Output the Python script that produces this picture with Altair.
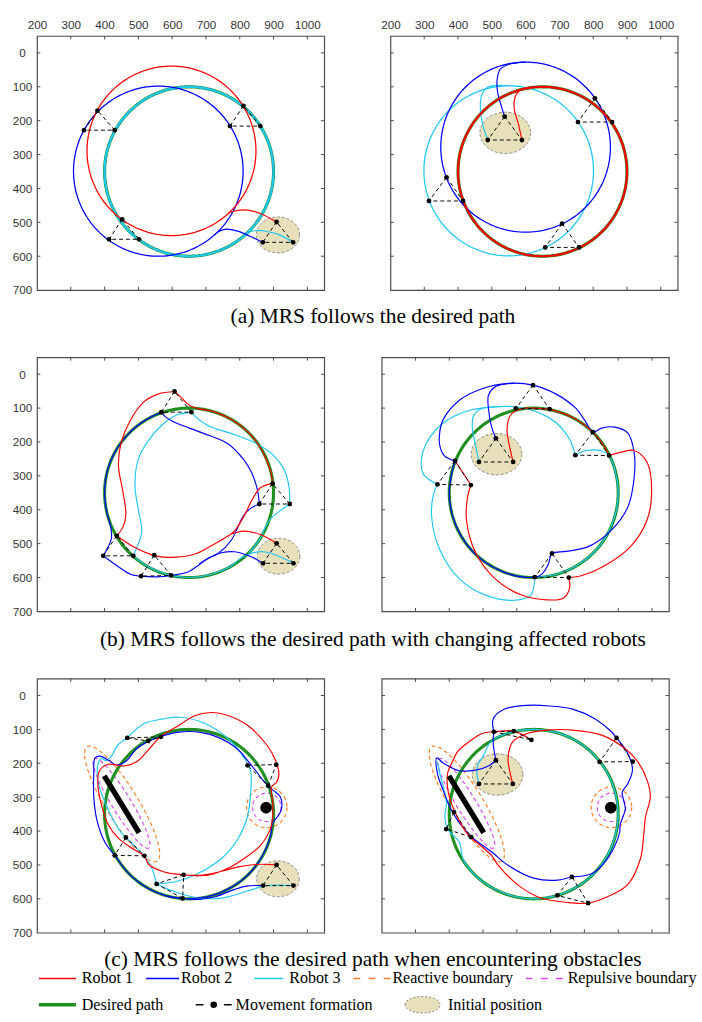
import numpy as np
import pandas as pd
import altair as alt

# ---------------- data ----------------
X_TICKS = [200, 300, 400, 500, 600, 700, 800, 900, 1000]
Y_TICKS = [0, 100, 200, 300, 400, 500, 600, 700]

CAPTIONS = [
    "(a) MRS follows the desired path",
    "(b) MRS follows the desired path with changing affected robots",
    "(c) MRS follows the desired path when encountering obstacles",
]
LEGEND_LABELS = ["Robot 1", "Robot 2", "Robot 3", "Reactive boundary", "Repulsive boundary",
                 "Desired path", "Movement formation", "Initial position"]

DESIRED = (650, 350, 250)  # centre x, centre y, radius

# obstacles (panels c)
BAR = [(399, 237), (502, 405)]
BAR_REACTIVE = (452, 320, 198, 48, 58.5)
BAR_REPULSIVE = (450, 318, 155, 28, 58.5)
DOT_OBSTACLE = (878, 331, 17)
DOT_REACTIVE = (880, 330, 60)
DOT_REPULSIVE = (880, 330, 42)

# ---- (a) left
A1_RED_CIRCLE = (598, 289, 250)
A1_BLUE_CIRCLE = (559, 349, 251)
A1_CYAN_CIRCLE = (650, 350, 250)
A1_RED = [[(909, 499), (861, 474), (823, 464), (799, 464), (780, 468), (768, 472)]]
A1_BLUE = [[(868, 559), (832, 542), (794, 526), (760, 520), (738, 527), (725, 537)]]
A1_CYAN = [[(958, 559), (918, 537), (880, 527), (850, 524), (823, 530)]]
A1_TRIS = [[(379, 170), (339, 228), (430, 228)], [(811, 156), (771, 216), (861, 216)],
           [(452, 491), (413, 550), (502, 550)], [(909, 499), (868, 559), (958, 559)]]
A1_INIT = (913, 537, 64, 53)

# ---- (a) right
A2_RED_CIRCLE = (650, 350, 250)
A2_BLUE_CIRCLE = (600, 278, 251)
A2_CYAN_CIRCLE = (550, 348, 251)
A2_RED = [[(589, 257), (579, 211), (566, 163), (569, 130), (583, 110), (603, 103), (650, 100)]]
A2_BLUE = [[(538, 188), (530, 163), (517, 115), (516, 77), (525, 48), (549, 34), (583, 28), (600, 27)]]
A2_CYAN = [[(488, 257), (473, 211), (466, 163), (470, 125), (487, 101), (516, 96), (550, 97)]]
A2_TRIS = [[(805, 134), (755, 204), (856, 204)], [(366, 367), (314, 437), (415, 437)],
           [(708, 504), (658, 574), (758, 574)], [(538, 188), (488, 257), (589, 257)]]
A2_INIT = (540, 236, 75, 61)

# ---- (b) left
B1_RED = [
    [(909, 499), (861, 473), (813, 463), (784, 469), (775, 471)],
    [(897, 323), (861, 335), (837, 370), (813, 418), (789, 457), (775, 471), (727, 500), (670, 530),
     (612, 540), (554, 537), (487, 510), (436, 477)],
    [(436, 477), (454, 452), (463, 413), (454, 346), (441, 269), (449, 202), (474, 140), (517, 81),
     (560, 58), (607, 51)],
    [(607, 51), (628, 70), (652, 92), (685, 103), (715, 108), (775, 133), (827, 173), (866, 225),
     (891, 285), (897, 323)],
]
B1_BLUE = [
    [(868, 558), (832, 538), (784, 524), (746, 527), (707, 543), (680, 560)],
    [(396, 536), (439, 567), (478, 591), (508, 596), (554, 598), (597, 594), (650, 582), (680, 562),
     (707, 543), (736, 529), (775, 490), (794, 452), (811, 418), (832, 396), (858, 383)],
    [(858, 383), (852, 340), (835, 290), (810, 250), (765, 205), (689, 173), (612, 144), (580, 126),
     (568, 112)],
    [(568, 112), (525, 133), (473, 173), (433, 225), (408, 285), (400, 350), (407, 410), (418, 450),
     (420, 485), (396, 536)],
]
B1_CYAN = [
    [(959, 558), (918, 538), (870, 524), (832, 529), (803, 543), (775, 566), (715, 591), (650, 600),
     (585, 591), (525, 566), (485, 536)],
    [(485, 536), (497, 508), (510, 465), (500, 400), (490, 330), (500, 250), (530, 195), (570, 150),
     (610, 122), (657, 112)],
    [(657, 112), (672, 128), (708, 153), (784, 178), (850, 205), (895, 235), (928, 275), (945, 327),
     (948, 383)],
    [(948, 383), (918, 404), (890, 428), (872, 460), (866, 475), (850, 500), (827, 527)],
]
B1_TRIS = [[(607, 51), (568, 112), (657, 112)], [(897, 323), (858, 383), (948, 383)],
           [(436, 477), (396, 536), (485, 536)], [(547, 534), (508, 596), (597, 594)],
           [(909, 499), (869, 558), (959, 558)]]
B1_INIT = (915, 537, 63, 53)

# ---- (b) right
B2_RED = [
    [(589, 259), (578, 211), (571, 163), (579, 125), (598, 107), (631, 100), (650, 100), (715, 108),
     (775, 133), (827, 173), (866, 225), (873, 240)],
    [(873, 240), (909, 230), (947, 225), (985, 259), (999, 345), (985, 431), (937, 508), (860, 565),
     (793, 594), (754, 600)],
    [(754, 600), (756, 632), (737, 661), (689, 666), (612, 651), (536, 604), (478, 527), (451, 431),
     (454, 364), (464, 327)],
    [(464, 327), (440, 290), (417, 256)],
]
B2_BLUE = [
    [(538, 189), (525, 154), (516, 101), (516, 62), (535, 38), (565, 29), (593, 27)],
    [(417, 256), (385, 240), (372, 211), (372, 170), (382, 134), (430, 77), (497, 43), (574, 27),
     (648, 32), (715, 58), (775, 101), (803, 139), (825, 171), (851, 159), (890, 156), (928, 173),
     (947, 230), (947, 307), (928, 393), (880, 460), (813, 508), (746, 523), (704, 529), (693, 561),
     (674, 590), (653, 599), (585, 592), (525, 567), (473, 527), (434, 475), (409, 415), (400, 350),
     (409, 285), (417, 256)],
]
B2_CYAN = [
    [(488, 259), (478, 211), (468, 154), (473, 120), (497, 101), (545, 96)],
    [(365, 325), (325, 297), (317, 259), (334, 201), (382, 144), (449, 110), (516, 98), (593, 96),
     (669, 115), (717, 144), (756, 192), (773, 239)],
    [(773, 239), (803, 226), (850, 226), (873, 240), (891, 285), (900, 350), (891, 415), (866, 475),
     (827, 527), (775, 566), (715, 591), (653, 599)],
    [(653, 599), (641, 652), (593, 667), (507, 652), (430, 604), (372, 518), (348, 422), (353, 355),
     (365, 325)],
]
B2_TRIS = [[(648, 32), (597, 101), (697, 103)], [(825, 171), (773, 239), (873, 240)],
           [(417, 256), (365, 325), (464, 327)], [(704, 529), (653, 599), (754, 600)],
           [(538, 189), (488, 259), (589, 259)]]
B2_INIT = (540, 236, 75, 61)

# ---- (c) left
C1_RED = [[(909, 500), (861, 498), (800, 505), (740, 520), (690, 530), (634, 529), (574, 520),
           (530, 498), (518, 474), (480, 450), (440, 420), (410, 380), (390, 320), (380, 260),
           (385, 222), (411, 203), (459, 208), (497, 194), (530, 160), (566, 121), (612, 93),
           (669, 59), (717, 50), (765, 59), (823, 88), (880, 146), (907, 194), (916, 232),
           (909, 256), (894, 270), (898, 320), (896, 370), (890, 395), (861, 443), (813, 481),
           (765, 510), (720, 527), (680, 532), (634, 529)]]
C1_BLUE = [
    [(869, 561), (823, 562), (785, 572), (727, 594), (680, 602), (650, 600)],
    [(650, 600), (585, 592), (525, 567), (473, 527), (430, 472), (401, 433), (377, 366), (368, 299),
     (368, 232), (372, 184), (387, 179), (416, 194), (435, 205), (463, 194), (497, 155), (528, 136),
     (566, 121), (620, 108), (680, 108), (740, 125), (790, 155), (830, 200), (865, 245), (884, 266),
     (899, 280), (920, 299), (923, 337), (909, 361), (897, 376), (891, 415), (866, 475), (827, 527),
     (775, 566), (715, 591), (650, 600)],
]
C1_CYAN = [
    [(959, 561), (880, 561), (823, 577), (746, 598), (669, 596), (602, 577), (554, 556)],
    [(554, 556), (612, 549), (669, 529), (746, 481), (794, 424), (823, 357), (832, 290), (832, 222),
     (813, 184), (765, 127), (689, 79), (622, 64), (574, 69), (516, 83), (467, 125)],
    [(467, 125), (439, 146), (420, 179), (405, 192), (390, 186), (380, 205), (382, 261), (411, 337),
     (449, 404), (487, 442), (535, 500), (554, 556)],
]
C1_TRIS = [[(467, 125), (529, 134), (567, 122)], [(823, 206), (908, 204), (884, 266)],
           [(463, 419), (430, 472), (518, 473)], [(634, 529), (554, 556), (631, 599)],
           [(909, 500), (869, 561), (959, 561)]]
C1_INIT = (913, 541, 63, 53)

# ---- (c) right
C2_RED = [[(588, 261), (579, 223), (574, 184), (588, 136), (631, 112), (689, 102), (765, 102),
           (851, 117), (918, 155), (957, 194), (986, 251), (995, 299), (981, 357), (976, 405),
           (966, 481), (928, 558), (861, 597), (811, 613), (755, 611), (669, 597), (602, 558),
           (545, 501), (526, 473), (495, 445), (455, 410), (420, 350), (398, 290), (395, 230),
           (411, 192), (425, 165), (459, 136), (497, 112), (532, 107), (591, 105), (643, 131)]]
C2_BLUE = [
    [(532, 107), (530, 69), (564, 40), (631, 29), (698, 31), (765, 40), (832, 69), (880, 107),
     (895, 125), (919, 155), (938, 194), (942, 222), (928, 261), (912, 285), (915, 305), (921, 335),
     (914, 358), (906, 380), (904, 405), (890, 443), (861, 491), (823, 525), (763, 535)],
    [(538, 191), (516, 208), (478, 220), (430, 222), (382, 199), (363, 184), (365, 230), (382, 280),
     (406, 337), (430, 376), (468, 419), (526, 462), (574, 501), (650, 539), (720, 545), (763, 535)],
    [(532, 107), (530, 140), (534, 170), (538, 191)],
]
C2_CYAN = [[(488, 261), (482, 232), (485, 203), (500, 180), (525, 134), (585, 108), (650, 100),
            (715, 108), (775, 133), (827, 173), (866, 225), (891, 285), (900, 350), (891, 415),
            (866, 475), (827, 527), (775, 566), (715, 591), (650, 600), (585, 591), (525, 566),
            (473, 527), (440, 480), (430, 433), (396, 395), (387, 357), (392, 318), (385, 280),
            (372, 230), (365, 195)]]
C2_TRIS = [[(532, 107), (591, 105), (643, 131)], [(895, 125), (845, 196), (943, 195)],
           [(414, 344), (391, 394), (465, 418)], [(763, 535), (720, 590), (811, 613)],
           [(538, 191), (488, 261), (588, 261)]]
C2_INIT = (543, 233, 75, 61)

# ---------------- styling ----------------
RED, BLUE, CYAN = "#ff0000", "#0000ff", "#1ec8f5"
GREEN = "#1f8f1f"
ORANGE = "#ff7f27"
MAGENTA = "#d84cf2"
TAN = "#e8dfbb"
FRAME = "#4a4a4a"
SANS = "Liberation Sans"
SERIF = "Liberation Serif"

W, H = 295, 261
XS = alt.Scale(domain=[200, 1050], nice=False, zero=False)
YS = alt.Scale(domain=[-50, 700], nice=False, zero=False, reverse=True)


def ring(cx, cy, rx, ry=None, ang=0.0, n=181):
    ry = rx if ry is None else ry
    t = np.linspace(0, 2 * np.pi, n)
    a = np.deg2rad(ang)
    x = cx + rx * np.cos(t) * np.cos(a) - ry * np.sin(t) * np.sin(a)
    y = cy + rx * np.cos(t) * np.sin(a) + ry * np.sin(t) * np.cos(a)
    return list(zip(x, y))


def segs_df(segs):
    rows = []
    for k, seg in enumerate(segs):
        for o, (x, y) in enumerate(seg):
            rows.append({"x": float(x), "y": float(y), "o": o, "k": k})
    return pd.DataFrame(rows)


def disc_df(cx, cy, rx, ry):
    t = np.linspace(np.pi, 0, 91)
    return pd.DataFrame({"x": cx + rx * np.cos(t), "y": cy - ry * np.sin(t), "y2": cy + ry * np.sin(t)})


def tick_df():
    L = 10
    rows = []
    for v in X_TICKS[1:]:
        rows.append({"x": v, "x2": v, "y": -50, "y2": -50 + L})
        rows.append({"x": v, "x2": v, "y": 700, "y2": 700 - L})
    for v in Y_TICKS[:-1]:
        rows.append({"x": 200, "x2": 200 + L, "y": v, "y2": v})
        rows.append({"x": 1050, "x2": 1050 - L, "y": v, "y2": v})
    return pd.DataFrame(rows)


def x_axis(top):
    if not top:
        return None
    return alt.Axis(orient="top", values=X_TICKS, format="d", ticks=False, tickSize=0, domain=False,
                    grid=False, labelPadding=5, labelFlush=False, labelOverlap=False, title=None,
                    minExtent=18, maxExtent=18, labelFont=SANS, labelFontSize=12, labelColor="#333333")


def y_axis(left):
    if not left:
        return None
    return alt.Axis(values=Y_TICKS, format="d", ticks=False, tickSize=0, domain=False, grid=False,
                    labelPadding=15.5, labelAlign="center", labelBaseline="middle", labelOverlap=False,
                    title=None, minExtent=30, maxExtent=30, labelFont=SANS, labelFontSize=12,
                    labelColor="#333333")


def panel(red, blue, cyan, tris, init, top, left, circles=None, obstacles=False):
    X = alt.X("x:Q", scale=XS, axis=x_axis(top))
    Y = alt.Y("y:Q", scale=YS, axis=y_axis(left))

    def line(df, **mk):
        return alt.Chart(df).mark_line(clip=True, **mk).encode(x=X, y=Y, detail="k:N", order="o:Q")

    layers = []
    cx, cy, rx, ry = init
    layers.append(alt.Chart(disc_df(cx, cy, rx, ry)).mark_area(color=TAN, clip=True)
                  .encode(x=X, y=Y, y2="y2:Q"))
    layers.append(line(segs_df([ring(cx, cy, rx, ry)]), color="#7f7f7f", strokeDash=[3, 2], strokeWidth=1))
    if obstacles:
        layers.append(line(segs_df([ring(*DOT_REACTIVE), ring(*BAR_REACTIVE[:4], ang=BAR_REACTIVE[4])]),
                           color=ORANGE, strokeDash=[4, 3], strokeWidth=1.2))
        layers.append(line(segs_df([ring(*DOT_REPULSIVE), ring(*BAR_REPULSIVE[:4], ang=BAR_REPULSIVE[4])]),
                           color=MAGENTA, strokeDash=[4, 3], strokeWidth=1.2))
    layers.append(line(segs_df([ring(*DESIRED)]), color=GREEN, strokeWidth=3.2))
    extra = circles or {}
    for segs, col, key in ((cyan, CYAN, "c"), (blue, BLUE, "b"), (red, RED, "r")):
        layers.append(line(segs_df(segs), color=col, strokeWidth=1.2, interpolate="catmull-rom"))
        if key in extra:
            c = extra[key]
            on_path = tuple(c) == tuple(DESIRED)
            layers.append(line(segs_df([ring(*c)]), color=col, strokeWidth=2.2 if on_path else 1.3))
    if obstacles:
        layers.append(line(segs_df([BAR]), color="black", strokeWidth=5.5, strokeCap="butt"))
        ox, oy, orr = DOT_OBSTACLE
        layers.append(alt.Chart(disc_df(ox, oy, orr, orr)).mark_area(color="black", clip=True)
                      .encode(x=X, y=Y, y2="y2:Q"))
    layers.append(line(segs_df([t + [t[0]] for t in tris]), color="black", strokeDash=[4, 3], strokeWidth=1))
    layers.append(alt.Chart(segs_df(tris)).mark_circle(size=24, color="black", opacity=1, clip=True)
                  .encode(x=X, y=Y))
    layers.append(alt.Chart(tick_df()).mark_rule(color=FRAME, strokeWidth=1)
                  .encode(x=X, x2="x2:Q", y=Y, y2="y2:Q"))
    return alt.layer(*layers).properties(
        width=W, height=H, view=alt.ViewBackground(stroke=FRAME, strokeWidth=1.2, strokeOpacity=1))


NOFRAME = alt.ViewBackground(stroke="transparent", strokeOpacity=0)


def caption(text, h, ty):
    return (alt.Chart(pd.DataFrame({"t": [text]}))
            .mark_text(font=SERIF, fontSize=22, align="center", baseline="middle", color="black")
            .encode(x=alt.value(345), y=alt.value(ty), text="t:N")
            .properties(width=675, height=h, view=NOFRAME))


def footer():
    base = alt.Chart(pd.DataFrame({"a": [0]}))
    r1, r2 = 40, 67
    layers = [base.mark_text(font=SERIF, fontSize=22, align="center", baseline="middle", color="black")
              .encode(x=alt.value(345), y=alt.value(20), text=alt.value(CAPTIONS[2]))]
    # legend layout: (label index, kind, colour, x0, x1, text x, row y)
    layout = [(0, "solid", RED, 2, 40, 46, r1), (1, "solid", BLUE, 112, 146, 148, r1),
              (2, "solid", CYAN, 223, 253, 259, r1), (3, "dash", ORANGE, 325, 363, 365, r1),
              (4, "dash", MAGENTA, 502, 540, 545, r1), (5, "thick", GREEN, 2, 40, 46, r2),
              (6, "form", "black", 163, 200, 204, r2), (7, "ell", TAN, 378, 414, 422, r2)]
    for idx, kind, col, x0, x1, tx, ty in layout:
        if kind == "solid":
            layers.append(base.mark_rule(color=col, strokeWidth=1.5)
                          .encode(x=alt.value(x0), x2=alt.value(x1), y=alt.value(ty)))
        elif kind == "dash":
            layers.append(base.mark_rule(color=col, strokeWidth=1.5, strokeDash=[7, 8.5])
                          .encode(x=alt.value(x0), x2=alt.value(x1), y=alt.value(ty)))
        elif kind == "thick":
            layers.append(base.mark_rule(color=col, strokeWidth=3.4)
                          .encode(x=alt.value(x0), x2=alt.value(x1), y=alt.value(ty)))
        elif kind == "form":
            layers.append(base.mark_rule(color=col, strokeWidth=1.5)
                          .encode(x=alt.value(x0), x2=alt.value(x0 + 8), y=alt.value(ty)))
            layers.append(base.mark_rule(color=col, strokeWidth=1.5)
                          .encode(x=alt.value(x1 - 8), x2=alt.value(x1), y=alt.value(ty)))
            layers.append(base.mark_circle(color=col, size=45, opacity=1)
                          .encode(x=alt.value((x0 + x1) / 2), y=alt.value(ty)))
        else:
            layers.append(base.mark_point(shape="M-1,0A1,0.47,0,1,1,1,0A1,0.47,0,1,1,-1,0Z",
                                          size=1296, filled=True, fill=col, stroke="#7f7f7f",
                                          strokeWidth=1, strokeDash=[2, 2], opacity=1)
                          .encode(x=alt.value((x0 + x1) / 2), y=alt.value(ty)))
        layers.append(base.mark_text(font=SERIF, fontSize=16.5, align="left", baseline="middle", color="black")
                      .encode(x=alt.value(tx), y=alt.value(ty), text=alt.value(LEGEND_LABELS[idx])))
    return alt.layer(*layers).properties(width=675, height=80, view=NOFRAME)


row_a = alt.hconcat(
    panel(A1_RED, A1_BLUE, A1_CYAN, A1_TRIS, A1_INIT, True, True,
          circles={"r": A1_RED_CIRCLE, "b": A1_BLUE_CIRCLE, "c": A1_CYAN_CIRCLE}),
    panel(A2_RED, A2_BLUE, A2_CYAN, A2_TRIS, A2_INIT, True, False,
          circles={"r": A2_RED_CIRCLE, "b": A2_BLUE_CIRCLE, "c": A2_CYAN_CIRCLE}),
    spacing=55)
row_b = alt.hconcat(
    panel(B1_RED, B1_BLUE, B1_CYAN, B1_TRIS, B1_INIT, False, True),
    panel(B2_RED, B2_BLUE, B2_CYAN, B2_TRIS, B2_INIT, False, False),
    spacing=55)
row_c = alt.hconcat(
    panel(C1_RED, C1_BLUE, C1_CYAN, C1_TRIS, C1_INIT, False, True, obstacles=True),
    panel(C2_RED, C2_BLUE, C2_CYAN, C2_TRIS, C2_INIT, False, False, obstacles=True),
    spacing=55)

chart = (alt.vconcat(row_a, caption(CAPTIONS[0], 60, 20), row_b, caption(CAPTIONS[1], 60, 21.5),
                     row_c, footer(), spacing=0)
         .properties(padding={"left": 7, "top": 4, "right": 5, "bottom": 0})
         .configure_view(stroke="transparent")
         .configure(background="white"))

chart.save("out.html", embed_options={"renderer": "svg", "actions": False})
